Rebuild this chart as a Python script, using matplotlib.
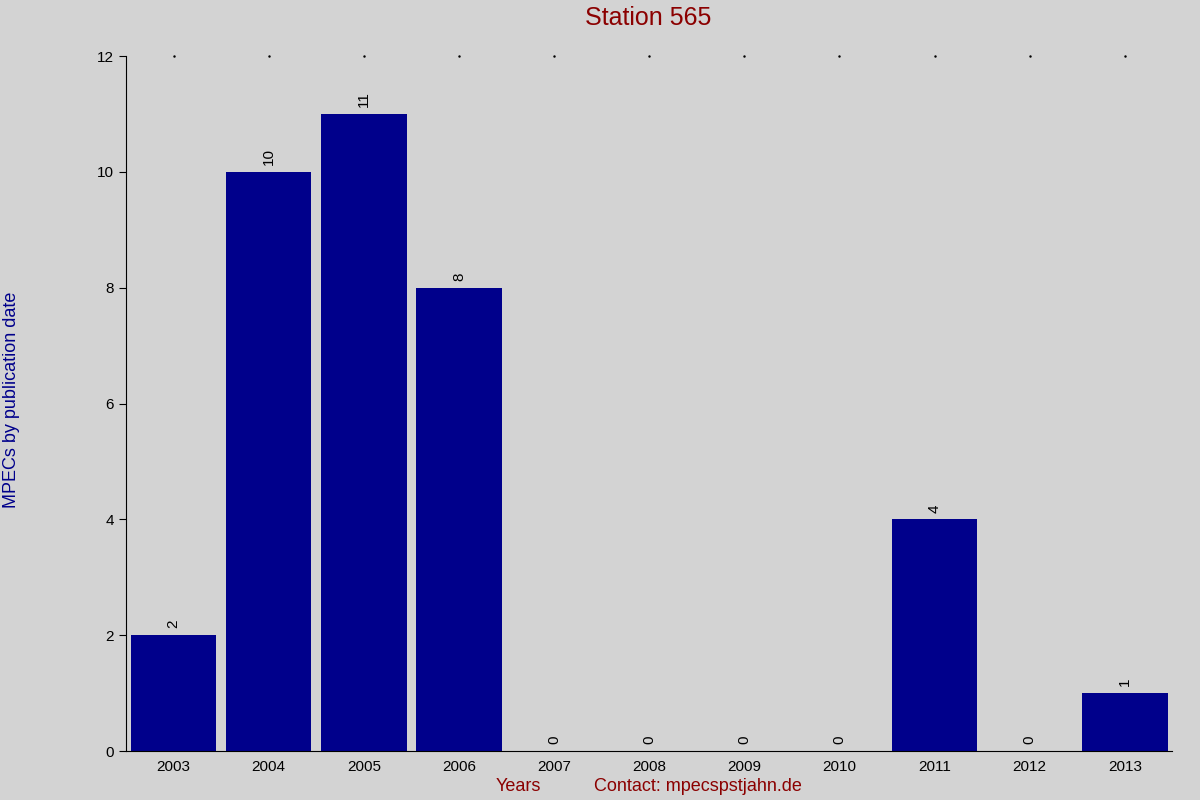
import matplotlib
matplotlib.use("Agg")
import matplotlib.pyplot as plt

years = ["2003", "2004", "2005", "2006", "2007", "2008", "2009", "2010", "2011", "2012", "2013"]
counts = [2, 10, 11, 8, 0, 0, 0, 0, 4, 0, 1]

plt.rcParams["font.family"] = ["Liberation Sans", "DejaVu Sans"]
bg = "#d3d3d3"
fig = plt.figure(figsize=(12, 8), dpi=100, facecolor=bg)
ax = fig.add_axes([0.105, 0.061, 0.872, 0.869], facecolor=bg)

x = range(len(years))
ax.bar(x, counts, width=0.9, color="#00008b")
for i, v in zip(x, counts):
    ax.text(i, v + 0.12, str(v), rotation=90, ha="center", va="bottom", fontsize=11)
# small dots along the top edge
ax.plot(list(x), [12] * len(years), ls="none", marker=".", ms=1.5, color="black", clip_on=False)

ax.set_xlim(-0.5, 10.5)
ax.set_ylim(0, 12)
ax.set_xticks(list(x))
ax.set_xticklabels(years, fontsize=11)
ax.set_yticks(range(0, 13, 2))
ax.tick_params(axis="y", labelsize=11, length=5, direction="out")
ax.tick_params(axis="x", length=0, pad=6)
for s in ("top", "right"):
    ax.spines[s].set_visible(False)

fig.text(0.54, 0.977, "Station 565", ha="center", va="center", fontsize=18, color="#8b0000")
fig.text(0.01, 0.5, "MPECs by publication date", rotation=90, ha="center", va="center",
         fontsize=13, color="#00008b")
fig.text(0.432, 0.017, "Years", ha="center", va="center", fontsize=13, color="#8b0000")
fig.text(0.582, 0.017, "Contact: mpecspstjahn.de", ha="center", va="center", fontsize=13, color="#8b0000")

fig.savefig("out.png", dpi=100, facecolor=bg)
